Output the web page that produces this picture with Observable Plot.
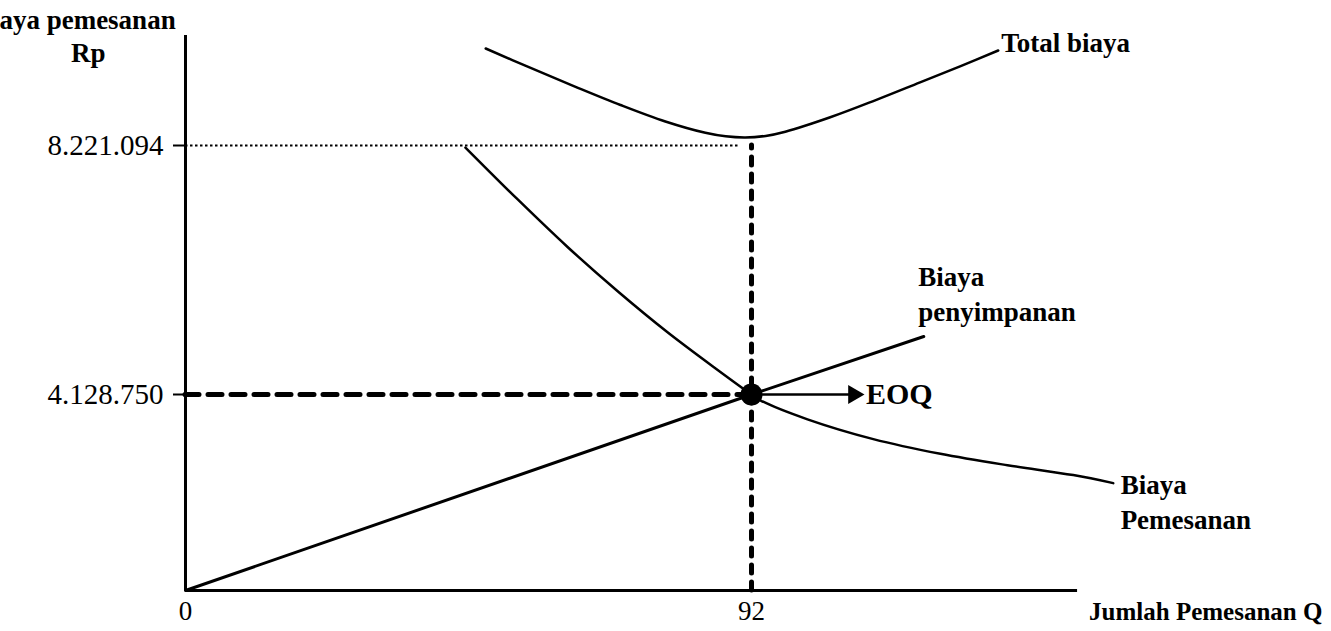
<!DOCTYPE html>
<html>
<head>
<meta charset="utf-8">
<script src="https://cdn.jsdelivr.net/npm/d3@7"></script>
<script src="https://cdn.jsdelivr.net/npm/@observablehq/plot@0.6"></script>
<style>
  html, body { margin: 0; padding: 0; background: #fff; }
  #chart svg { display: block; }
</style>
</head>
<body>
<div id="chart"></div>
<script>
// EOQ point: order quantity and the cost level where the two cost curves meet (Rp)
const eoqQ = 92;
const eoqCost = 4128750;
const minTotal = 8221094;

// Biaya pemesanan (ordering cost) curve
const orderQ    = [45.5, 54.0, 62.1, 70.2, 78.3, 86.5, 92, 93.5, 101.1, 111.8, 122.7, 133.6, 144.3, 150.8];
const orderCost = [8188000, 7334000, 6553000, 5830000, 5156000, 4532000, 4128750, 4002000, 3606000, 3189000, 2880000, 2639000, 2431000, 2262000];

// Biaya penyimpanan (holding cost) line
const holdQ    = [0, 92, 120];
const holdCost = [0, 4128750, 5082000];

// Total biaya curve
const totalQ    = [48.8, 56.1, 63.4, 70.7, 78.0, 84.5, 87.8, 91.0, 94.3, 97.5, 104.8, 112.1, 119.4, 126.0, 132.1];
const totalCost = [9815000, 9496000, 9186000, 8887000, 8616000, 8430000, 8372000, 8353000, 8379000, 8448000, 8685000, 8964000, 9259000, 9526000, 9782000];

// Axis extents and tick values
const xTicks = [0, 92];
const yTicks = [eoqCost, minTotal];
const xAxisEnd = 145;
const yAxisTop = 10030000;

// Annotations
const curveLabels = [
  {text: "Total biaya", q: 132.6, c: 9946000},
  {text: "Biaya\npenyimpanan", q: 119.1, c: 5805000},
  {text: "Biaya\nPemesanan", q: 152.0, c: 1896000}
];
const xTitle = [{text: "Jumlah Pemesanan Q", q: 184.8, c: -460000}];
const eoqArrow = [{q1: 93.5, q2: 108.4, c: eoqCost}];
const eoqHead = [{q: 108.6, c: eoqCost}];
const eoqLabel = [{text: "EOQ", q: 110.6, c: eoqCost}];
const yTitle = [{text: "Biaya pemesanan", q: -1.6, c: 10275000}];
const yUnit = [{text: "Rp", q: -15.8, c: 9733000}];

const zip = (xs, ys) => xs.map((q, i) => ({q, c: ys[i]}));
const rupiah = d => d3.format(",")(d).replace(/,/g, ".");
const serif = "'Liberation Serif', 'Times New Roman', serif";

// The cost axis is drawn schematically: the lower band (0 – EOQ cost) and the
// upper band (EOQ cost – minimum total) each get their own linear stretch.
const costAxis = d3.scaleLinear().domain([0, eoqCost, minTotal]).range([0, 196, 445]);

const chart = Plot.plot({
  width: 1331,
  height: 631,
  marginTop: 0,
  marginRight: 0,
  marginBottom: 41,
  marginLeft: 185,
  x: {domain: [0, 92], range: [185, 751]},
  y: {transform: costAxis, domain: [0, 196], range: [590, 394]},
  style: {fontFamily: serif, color: "#000", background: "#fff"},
  marks: [
    // reference lines to the axes
    Plot.ruleY([minTotal], {x1: 0, x2: 90, stroke: "#000", strokeWidth: 2, strokeDasharray: "2.5,2.5"}),
    Plot.ruleY([eoqCost], {x1: 0, x2: 90.5, stroke: "#000", strokeWidth: 5, strokeDasharray: "14,9", strokeLinecap: "round"}),
    Plot.ruleX([eoqQ], {y1: 0, y2: minTotal, stroke: "#000", strokeWidth: 5, strokeDasharray: "8,9", strokeLinecap: "round"}),

    // axes
    Plot.ruleX([0], {y1: 0, y2: yAxisTop, stroke: "#000", strokeWidth: 3}),
    Plot.ruleY([0], {x1: 0, x2: xAxisEnd, stroke: "#000", strokeWidth: 3}),
    Plot.axisY(yTicks, {tickSize: 12, tickPadding: 10, tickFormat: rupiah, fontSize: 29, strokeWidth: 2, label: null}),
    Plot.axisX(xTicks, {tickSize: 0, tickPadding: 10, fontSize: 27, label: null}),

    // cost curves
    Plot.line(zip(holdQ, holdCost), {x: "q", y: "c", stroke: "#000", strokeWidth: 3}),
    Plot.line(zip(orderQ, orderCost), {x: "q", y: "c", stroke: "#000", strokeWidth: 2.5, curve: "catmull-rom"}),
    Plot.line(zip(totalQ, totalCost), {x: "q", y: "c", stroke: "#000", strokeWidth: 2.5, curve: "catmull-rom"}),

    // EOQ marker
    Plot.dot([{q: eoqQ, c: eoqCost}], {x: "q", y: "c", r: 11, fill: "#000"}),
    Plot.ruleY(eoqArrow, {x1: "q1", x2: "q2", y: "c", stroke: "#000", strokeWidth: 2.5}),
    Plot.dot(eoqHead, {x: "q", y: "c", symbol: "triangle", rotate: 90, r: 7, fill: "#000"}),
    Plot.text(eoqLabel, {x: "q", y: "c", text: "text", textAnchor: "start", fontSize: 30, fontWeight: "bold"}),

    // curve labels
    Plot.text(curveLabels, {x: "q", y: "c", text: "text", textAnchor: "start", lineHeight: 1.3, fontSize: 27, fontWeight: "bold"}),
    Plot.text(xTitle, {x: "q", y: "c", text: "text", textAnchor: "end", fontSize: 25, fontWeight: "bold"}),

    // y-axis title
    Plot.text(yTitle, {x: "q", y: "c", text: "text", textAnchor: "end", fontSize: 27, fontWeight: "bold"}),
    Plot.text(yUnit, {x: "q", y: "c", text: "text", textAnchor: "middle", fontSize: 27, fontWeight: "bold"})
  ]
});

document.getElementById("chart").append(chart);
</script>
</body>
</html>
